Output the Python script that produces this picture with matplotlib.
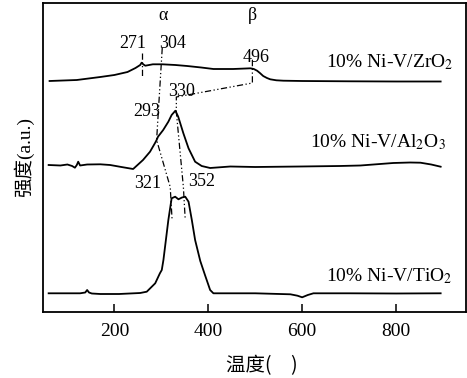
import matplotlib.pyplot as plt
import numpy as np

plt.rcParams['mathtext.fontset'] = 'stix'

# temperature / intensity (arbitrary units)
zr_t = [62, 120, 170, 200, 228, 245, 255, 258, 262, 266, 282, 302, 330, 355, 385, 411,
        453, 480, 490, 497, 504, 510, 517, 525, 532, 545, 560, 600, 700, 800, 895]
zr_y = [231, 232, 235, 237, 240, 244, 247, 249.3, 247.5, 246.3, 247.7, 247.7, 247, 246,
        244.5, 243, 243, 243.5, 243.7, 243, 241.3, 239, 236, 234, 232.7, 231.7, 231.3,
        231, 230.7, 230.5, 230.5]

al_t = [60, 85, 100, 110, 116, 120, 123, 127, 142, 170, 191, 215, 240, 261, 276, 287,
        290, 293, 304, 315, 322, 330, 336, 347, 358, 372, 386, 404, 447, 500, 596, 680,
        724, 794, 830, 852, 875, 895]
al_y = [147, 146.5, 147.5, 146, 144.3, 147, 150.3, 146.5, 147.5, 147.7, 147, 145, 143,
        152, 160.3, 169.3, 172, 175.3, 182, 190.3, 197, 201.3, 195.3, 178.7, 163.7, 150.3,
        146, 144, 145.5, 145, 145.5, 146, 146.5, 149, 149.5, 149.3, 147.5, 145.3]

ti_t = [60, 127, 138, 142, 146, 152, 170, 210, 255, 269, 287, 297, 301, 304.5, 308, 315,
        322, 329.5, 336.5, 344, 351, 358, 365, 372, 383, 393, 404, 411, 500, 575, 590,
        600, 612, 624, 700, 800, 895]
ti_y = [18.7, 18.7, 19.5, 22, 19.5, 18.5, 18, 18, 19, 20.3, 28.7, 38.7, 42, 52, 65.3,
        92, 113.7, 115.3, 112.7, 114.5, 115.3, 110.3, 92, 72, 51, 37, 22, 18.7, 18.7,
        17.7, 16.3, 14.7, 17, 18.7, 18.7, 18.5, 18.7]

# guide lines
alpha_t = [302, 290, 319, 323]
alpha_y = [264, 172, 125, 92]
beta_t = [494, 494, 332, 332, 347, 351]
beta_y = [252, 229, 215, 200, 125, 92]
p271_t = [258, 258]
p271_y = [259, 236]

# peak labels (text, t, y)
peak_labels = [('α', 304, 297), ('β', 494, 297), ('271', 240, 269), ('304', 323, 269),
               ('496', 502, 255), ('330', 344, 220), ('293', 268, 200),
               ('321', 272, 129), ('352', 385, 130)]
# sample labels (text, right end t, baseline y)
samples = [('10% Ni-V/ZrO$_2$', 922, 245), ('10% Ni-V/Al$_2$O$_3$', 905, 165),
           ('10% Ni-V/TiO$_2$', 920, 31)]

fig = plt.figure(figsize=(4.67, 3.78), dpi=100)
ax = fig.add_axes([43/467, 1-312/378, 423/467, 309/378])

for t, y in [(zr_t, zr_y), (al_t, al_y), (ti_t, ti_y)]:
    ax.plot(t, y, color='black', lw=1.3)

dd = (0, (5, 2, 1, 2, 1, 2))
for t, y in [(alpha_t, alpha_y), (beta_t, beta_y), (p271_t, p271_y)]:
    ax.plot(t, y, color='black', lw=0.9, linestyle=dd)

serif = ['Liberation Serif', 'DejaVu Serif']
for s, t, y in peak_labels:
    ax.text(t, y, s, ha='center', va='center', fontsize=13, family=serif)
for s, t, y in samples:
    ax.text(t, y, s, ha='right', va='baseline', fontsize=14, family=serif)

ax.set_xlim(48, 949)
ax.set_ylim(0, 309)
ax.set_xticks([200, 400, 600, 800])
ax.set_yticks([])
ax.tick_params(axis='x', direction='in', length=6, width=1.1, pad=8, labelsize=14)
for lab in ax.get_xticklabels():
    lab.set_family(serif)
for sp in ax.spines.values():
    sp.set_linewidth(1.3)

ax.set_xlabel('温度(　)', fontsize=14, family=['Noto Sans CJK SC', 'DejaVu Sans'], va='center')
ax.xaxis.set_label_coords(0.518, -0.175)
ax.set_ylabel('强度(a.u.)', fontsize=14, family=['Liberation Serif', 'Noto Sans CJK SC'], va='center')
ax.yaxis.set_label_coords(-0.045, 0.5016)

fig.savefig('out.png', dpi=100)
